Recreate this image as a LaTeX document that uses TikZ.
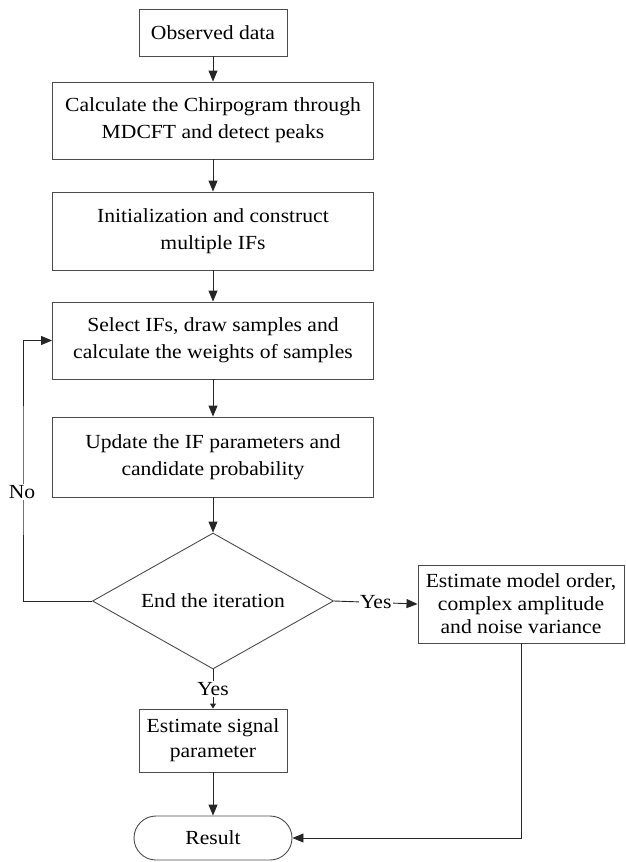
\documentclass[tikz,border=0pt]{standalone}
\usepackage{fontspec}
\setmainfont{Liberation Serif}[FakeStretch=1.08]
\usetikzlibrary{shapes.geometric,arrows.meta}
\begin{document}
\begin{tikzpicture}[x=1pt,y=-1pt,
  every node/.style={font=\fontsize{20}{27}\selectfont},
  box/.style={draw=black!70,line width=0.9pt,align=center,inner sep=0pt},
  conn/.style={draw=black!85,line width=0.9pt,-{Triangle[length=11pt,width=9pt]}},
  smallconn/.style={draw=black!85,line width=0.9pt,-{Triangle[length=5pt,width=6pt]}},
  lbl/.style={fill=white,inner sep=1.5pt}]
\useasboundingbox (0,0) rectangle (625,862);
\node[box,minimum width=148pt,minimum height=47pt] (obs) at (213,32.5) {Observed data};
\node[box,minimum width=321pt,minimum height=77pt] (chirp) at (213,120.5) {Calculate the Chirpogram through\\MDCFT and detect peaks};
\node[box,minimum width=321pt,minimum height=78pt] (init) at (213,231) {Initialization and construct\\multiple IFs};
\node[box,minimum width=321pt,minimum height=77pt] (sel) at (213,340.5) {Select IFs, draw samples and\\calculate the weights of samples};
\node[box,minimum width=321pt,minimum height=80pt] (upd) at (213,457) {Update the IF parameters and\\candidate probability};
\node[box,diamond,aspect=1.77,minimum width=241pt,minimum height=136pt] (dec) at (213,601) {End the iteration};
\node[box,minimum width=206pt,minimum height=78pt,font=\fontsize{20}{23}\selectfont] (model) at (521,604) {Estimate model order,\\complex amplitude\\and noise variance};
\node[box,minimum width=148pt,minimum height=63pt,font=\fontsize{20}{25}\selectfont] (sig) at (213,740.5) {Estimate signal\\parameter};
\node[box,rounded corners=22pt,minimum width=158pt,minimum height=44pt] (res) at (213,838) {Result};
\coordinate (lp) at (23,470);
\draw[conn] (obs) -- (chirp);
\draw[conn] (chirp) -- (init);
\draw[conn] (init) -- (sel);
\draw[conn] (sel) -- (upd);
\draw[conn] (upd) -- (dec);
\draw[smallconn] (dec.south) -- node[lbl] {Yes} (sig.north);
\draw[conn] (dec.east) -- node[lbl] {Yes} (model.west);
\draw[conn] (dec.west) -| (lp) |- (sel.west);
\node[lbl] (no) at (22,492) {No};
\draw[conn] (model.south) |- (res.east);
\draw[conn] (sig) -- (res);
\end{tikzpicture}
\end{document}
